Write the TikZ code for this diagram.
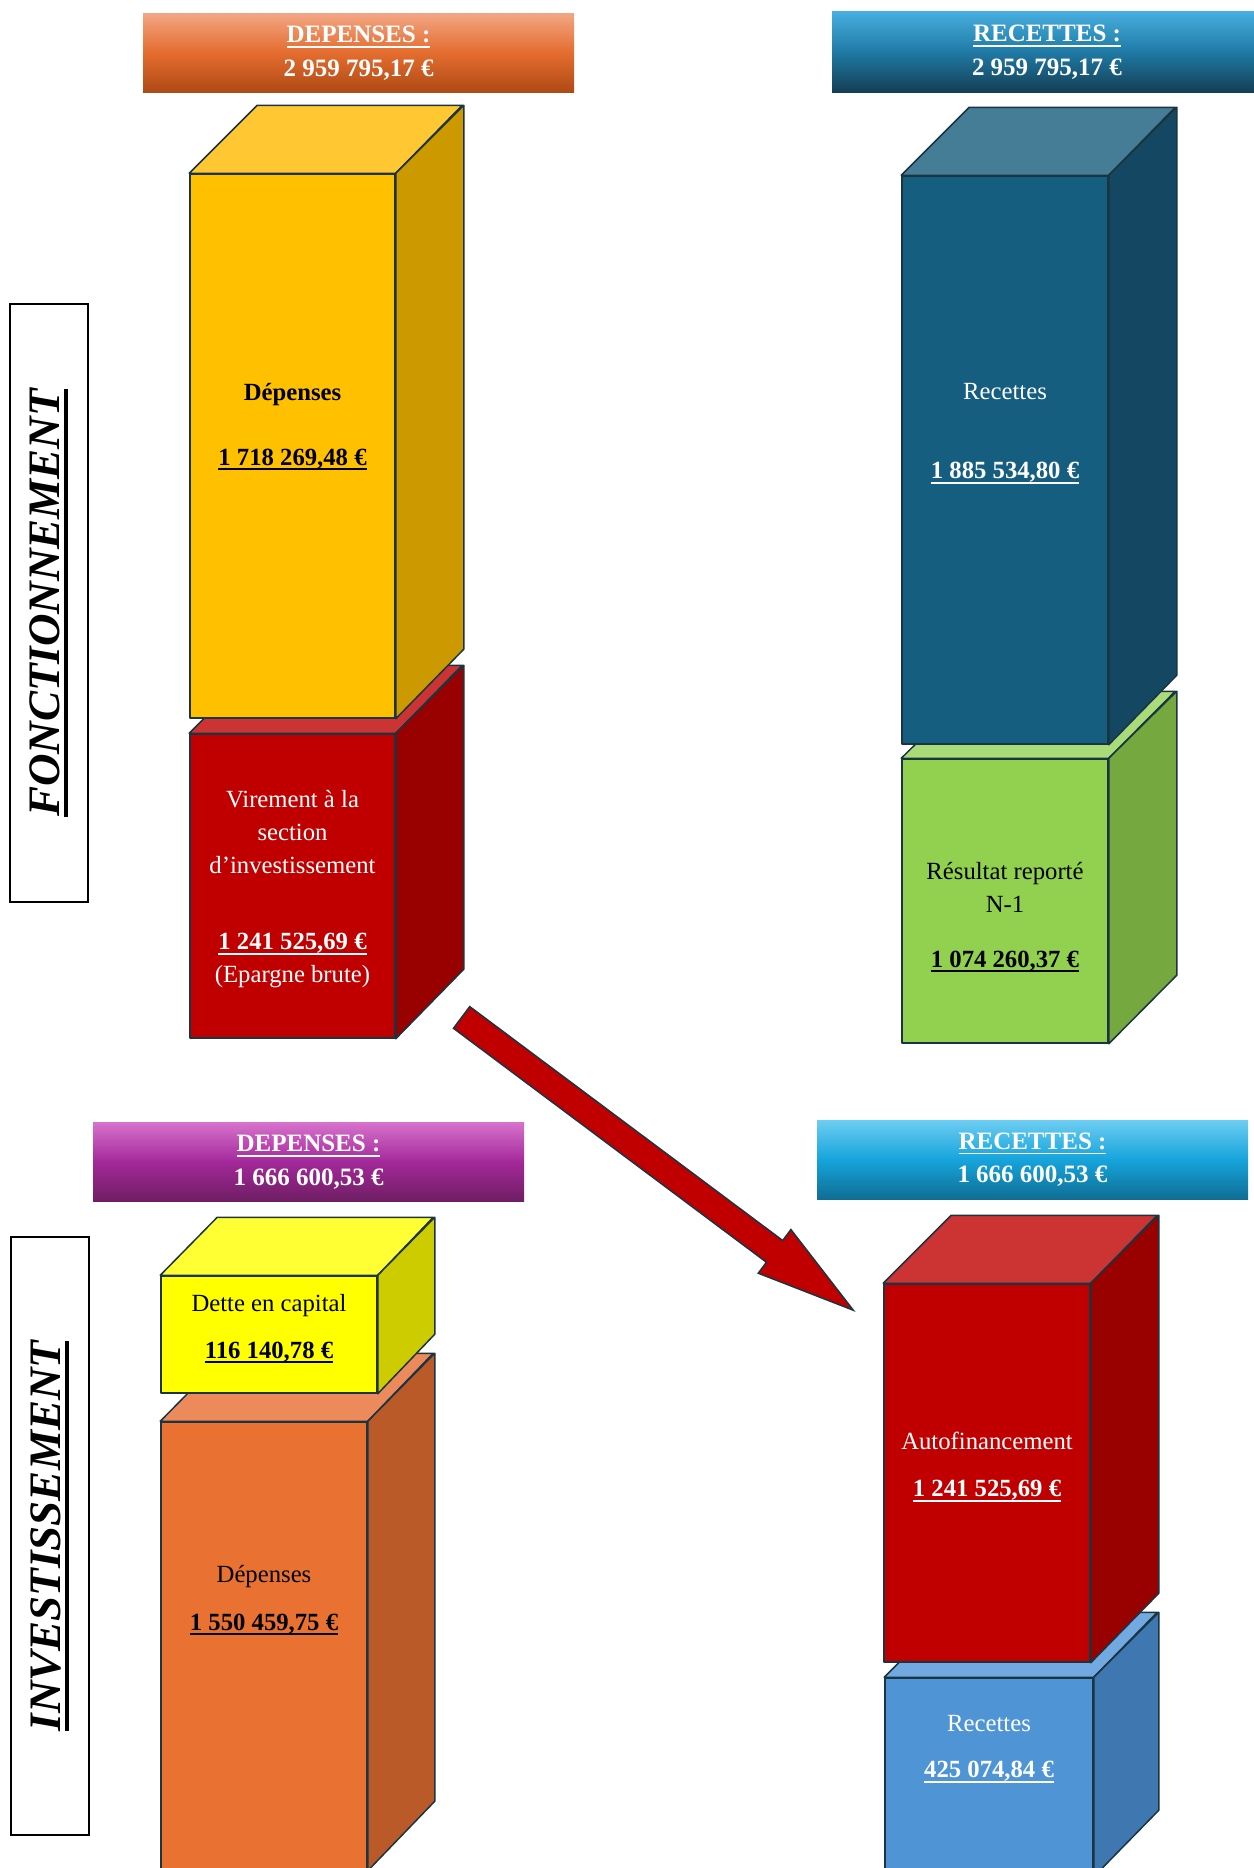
\documentclass[tikz,border=0pt]{standalone}
\usepackage{fontspec}
\setmainfont{Liberation Serif}
\usetikzlibrary{shapes.arrows}

\definecolor{outline}{HTML}{1A3442}
\definecolor{depfront}{HTML}{FFC000}
\definecolor{deptop}{HTML}{FFC832}
\definecolor{depside}{HTML}{CC9A00}
\definecolor{virfront}{HTML}{C00000}
\definecolor{virtop}{HTML}{CC3333}
\definecolor{virside}{HTML}{990000}
\definecolor{recfront}{HTML}{165E80}
\definecolor{rectop}{HTML}{467D96}
\definecolor{recside}{HTML}{144862}
\definecolor{resfront}{HTML}{92D050}
\definecolor{restop}{HTML}{A9DC78}
\definecolor{resside}{HTML}{75A83F}
\definecolor{dettefront}{HTML}{FFFF00}
\definecolor{dettetop}{HTML}{FFFF33}
\definecolor{detteside}{HTML}{CCCC00}
\definecolor{invdepfront}{HTML}{E97132}
\definecolor{invdeptop}{HTML}{ED8A5B}
\definecolor{invdepside}{HTML}{BA5A28}
\definecolor{invrecfront}{HTML}{4F95D6}
\definecolor{invrectop}{HTML}{72A9E0}
\definecolor{invrecside}{HTML}{3F77B0}
% header gradients
\definecolor{fdepa}{HTML}{F2A582}
\definecolor{fdepb}{HTML}{E46C2E}
\definecolor{fdepc}{HTML}{AF4A16}
\definecolor{freca}{HTML}{47AEDF}
\definecolor{frecb}{HTML}{1F7AA5}
\definecolor{frecc}{HTML}{143E55}
\definecolor{idepa}{HTML}{D772CC}
\definecolor{idepb}{HTML}{A3289A}
\definecolor{idepc}{HTML}{6E1E63}
\definecolor{ireca}{HTML}{6DCDF2}
\definecolor{irecb}{HTML}{16A4DC}
\definecolor{irecc}{HTML}{0F6E94}

\newcommand\lined[2]{\setbox0=\hbox{#2}\rlap{\rule[-0.2em]{\wd0}{#1}}\box0}
\newcommand\amount[1]{\lined{1.8pt}{\bfseries #1}}

\begin{document}
\begin{tikzpicture}[x=1pt, y=-1pt,
    face/.style={draw=outline, line width=1.5pt, line join=round, inner sep=0pt},
    headbox/.style={inner sep=0pt, text=white, align=center, font=\fontsize{25}{33.5}\selectfont\bfseries},
    boxtext/.style={align=center, font=\fontsize{24.7}{33}\selectfont},
    sidebar/.style={draw, line width=2.5pt, rotate=90, minimum width=598pt, minimum height=78pt, font=\fontsize{45}{50}\selectfont\bfseries\itshape},
    flowarrow/.style={single arrow, draw=outline, fill=virfront, line width=1.5pt, inner sep=0pt, text height=25.6pt, text depth=0pt, minimum height=489pt, single arrow head extend=13.7pt, single arrow tip angle=31}]

    \useasboundingbox[fill=white] (0,0) rectangle (1253,1868);

    % headers
    \node[headbox, top color=fdepa, bottom color=fdepc, middle color=fdepb, minimum width=431pt, minimum height=78pt] (fdephead) at (358.5,53) {\lined{1.5pt}{DEPENSES :}\\2 959 795,17 €};
    \node[headbox, top color=freca, bottom color=frecc, middle color=frecb, minimum width=430pt, minimum height=80pt] (frechead) at (1047,52) {\lined{1.5pt}{RECETTES :}\\2 959 795,17 €};
    \node[headbox, top color=idepa, bottom color=idepc, middle color=idepb, minimum width=431pt, minimum height=79pt] (idephead) at (308.5,1162) {\lined{1.5pt}{DEPENSES :}\\1 666 600,53 €};
    \node[headbox, top color=ireca, bottom color=irecc, middle color=irecb, minimum width=431pt, minimum height=79pt] (irechead) at (1032.5,1159.5) {\lined{1.5pt}{RECETTES :}\\1 666 600,53 €};

    % side titles
    \node[sidebar] (fonct) at (48.75,603) {\lined{4pt}{FONCTIONNEMENT}};
    \node[sidebar] (invest) at (50,1536) {\lined{4pt}{INVESTISSEMENT}};

    % fonctionnement: depenses
    \node[face, fill=virfront, minimum width=205pt, minimum height=304pt] (vir) at (292.5,886) {};
    \draw[face, fill=virtop] (vir.north west) -- ++(68,-68) -- ++(205,0) -- (vir.north east) -- cycle;
    \draw[face, fill=virside] (vir.north east) -- ++(68,-68) -- ++(0,304) -- (vir.south east) -- cycle;
    \node[face, fill=depfront, minimum width=205pt, minimum height=544pt] (dep) at (292.5,446) {};
    \draw[face, fill=deptop] (dep.north west) -- ++(68,-68) -- ++(205,0) -- (dep.north east) -- cycle;
    \draw[face, fill=depside] (dep.north east) -- ++(68,-68) -- ++(0,544) -- (dep.south east) -- cycle;

    % fonctionnement: recettes
    \node[face, fill=resfront, minimum width=206pt, minimum height=284pt] (res) at (1005,901) {};
    \draw[face, fill=restop] (res.north west) -- ++(68,-67) -- ++(206,0) -- (res.north east) -- cycle;
    \draw[face, fill=resside] (res.north east) -- ++(68,-67) -- ++(0,284) -- (res.south east) -- cycle;
    \node[face, fill=recfront, minimum width=206pt, minimum height=568pt] (rec) at (1005,460) {};
    \draw[face, fill=rectop] (rec.north west) -- ++(68,-68) -- ++(206,0) -- (rec.north east) -- cycle;
    \draw[face, fill=recside] (rec.north east) -- ++(68,-68) -- ++(0,568) -- (rec.south east) -- cycle;

    % investissement: depenses
    \node[face, fill=invdepfront, minimum width=206pt, minimum height=448pt] (invdep) at (264,1646) {};
    \draw[face, fill=invdeptop] (invdep.north west) -- ++(67,-68) -- ++(206,0) -- (invdep.north east) -- cycle;
    \draw[face, fill=invdepside] (invdep.north east) -- ++(67,-68) -- ++(0,448) -- (invdep.south east) -- cycle;
    \node[face, fill=dettefront, minimum width=216pt, minimum height=117pt] (dette) at (269,1334.5) {};
    \draw[face, fill=dettetop] (dette.north west) -- ++(57,-58) -- ++(216,0) -- (dette.north east) -- cycle;
    \draw[face, fill=detteside] (dette.north east) -- ++(57,-58) -- ++(0,117) -- (dette.south east) -- cycle;

    % investissement: recettes
    \node[face, fill=invrecfront, minimum width=208pt, minimum height=198pt] (invrec) at (989,1777) {};
    \draw[face, fill=invrectop] (invrec.north west) -- ++(65,-65) -- ++(208,0) -- (invrec.north east) -- cycle;
    \draw[face, fill=invrecside] (invrec.north east) -- ++(65,-65) -- ++(0,198) -- (invrec.south east) -- cycle;
    \node[face, fill=virfront, minimum width=206pt, minimum height=378pt] (auto) at (987,1473) {};
    \draw[face, fill=virtop] (auto.north west) -- ++(68,-68) -- ++(206,0) -- (auto.north east) -- cycle;
    \draw[face, fill=virside] (auto.north east) -- ++(68,-68) -- ++(0,378) -- (auto.south east) -- cycle;

    % texts
    \node[boxtext] (deptext) at (292.5,426.5) {\textbf{Dépenses}\\[32pt]\amount{1 718 269,48 €}};
    \node[boxtext, text=white] (virtext) at (292.5,889.5) {Virement à la\\section\\d’investissement\\[43pt]\amount{1 241 525,69 €}\\(Epargne brute)};
    \node[boxtext, text=white] (rectext) at (1005,433.5) {Recettes\\[46pt]\amount{1 885 534,80 €}};
    \node[boxtext] (restext) at (1005,917) {Résultat reporté\\N-1\\[22pt]\amount{1 074 260,37 €}};
    \node[boxtext] (dettetext) at (269,1328.5) {Dette en capital\\[14pt]\amount{116 140,78 €}};
    \node[boxtext] (invdeptext) at (264,1600) {Dépenses\\[15pt]\amount{1 550 459,75 €}};
    \node[boxtext, text=white] (autotext) at (987,1467) {Autofinancement\\[14pt]\amount{1 241 525,69 €}};
    \node[boxtext, text=white] (invrectext) at (989,1749) {Recettes\\[13pt]\amount{425 074,84 €}};

    % epargne -> autofinancement
    \coordinate (flowtail) at (461,1017);
    \coordinate (flowtip) at (853,1310);
    \path (flowtail) -- (flowtip) node[pos=0, sloped, anchor=tail, flowarrow] (flow) {};
\end{tikzpicture}
\end{document}
